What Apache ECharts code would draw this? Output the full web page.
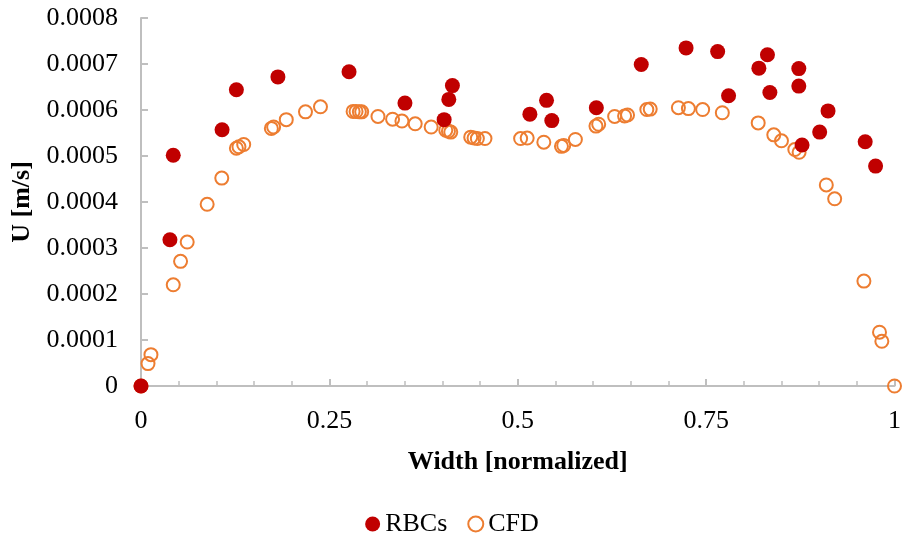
<!DOCTYPE html>
<html>
<head>
<meta charset="utf-8">
<script src="https://cdn.jsdelivr.net/npm/echarts@6/dist/echarts.min.js"></script>
<style>
html,body{margin:0;padding:0;background:#fff;}
#chart{width:904px;height:539px;}
</style>
</head>
<body>
<div id="chart"></div>
<script>
const rbcX = [0, 0.0384, 0.0428, 0.1076, 0.1266, 0.1817, 0.2761, 0.3503, 0.4023, 0.4085, 0.4133, 0.5161, 0.5382, 0.5452, 0.6043, 0.6639, 0.7234, 0.7653, 0.7798, 0.82, 0.8314, 0.8346, 0.873, 0.873, 0.8773, 0.9007, 0.9118, 0.9611, 0.9749];
const rbcY = [0, 0.000318, 0.0005015, 0.000557, 0.000644, 0.000672, 0.000683, 0.000615, 0.000579, 0.000623, 0.000653, 0.000591, 0.000621, 0.000577, 0.000605, 0.000699, 0.000735, 0.000727, 0.000631, 0.000691, 0.00072, 0.000638, 0.00069, 0.000652, 0.000524, 0.000552, 0.000598, 0.000531, 0.000478];
const cfdX = [0, 0.0093, 0.0132, 0.0428, 0.0525, 0.0613, 0.0878, 0.1072, 0.1266, 0.1300, 0.1363, 0.173, 0.176, 0.1928, 0.2183, 0.2382, 0.2815, 0.2854, 0.2898, 0.2929, 0.3145, 0.3339, 0.3463, 0.3639, 0.3851, 0.4045, 0.408, 0.4111, 0.4376, 0.442, 0.4464, 0.4565, 0.5038, 0.5125, 0.5346, 0.558, 0.561, 0.5765, 0.6038, 0.6074, 0.6286, 0.6418, 0.6457, 0.6713, 0.6758, 0.7132, 0.7265, 0.7454, 0.7715, 0.8191, 0.8398, 0.85, 0.8677, 0.8734, 0.9095, 0.9206, 0.9594, 0.9801, 0.9832, 1];
const cfdY = [0, 0.0000487, 0.0000682, 0.00022, 0.000271, 0.000313, 0.000395, 0.000452, 0.000517, 0.00052, 0.000525, 0.00056, 0.000563, 0.000579, 0.000596, 0.000607, 0.000597, 0.000597, 0.000596, 0.000596, 0.000586, 0.00058, 0.000576, 0.00057, 0.000563, 0.000556, 0.000554, 0.000552, 0.000541, 0.000539, 0.000538, 0.000538, 0.000538, 0.000539, 0.00053, 0.000521, 0.000523, 0.000536, 0.000565, 0.000569, 0.000586, 0.000587, 0.000589, 0.000601, 0.000602, 0.000605, 0.000603, 0.000601, 0.000594, 0.000572, 0.000546, 0.000533, 0.000514, 0.000508, 0.000437, 0.000407, 0.000228, 0.000117, 0.0000972, 0];
const seriesNames = ['RBCs', 'CFD'];
const xTickLabels = {0: '0', 0.25: '0.25', 0.5: '0.5', 0.75: '0.75', 1: '1'};

const FONT = '"Liberation Serif", "Times New Roman", serif';
const zip = (xs, ys) => xs.map((x, i) => [x, ys[i]]);

const chart = echarts.init(document.getElementById('chart'), null, {renderer: 'canvas'});
chart.setOption({
  animation: false,
  backgroundColor: '#fff',
  textStyle: {fontFamily: FONT, color: '#000'},
  grid: {left: 141, right: 7, top: 18, bottom: 153, containLabel: false},
  xAxis: {
    type: 'value', min: 0, max: 1, interval: 0.25,
    name: 'Width [normalized]', nameLocation: 'middle', nameGap: 63,
    nameTextStyle: {fontFamily: FONT, fontSize: 26, fontWeight: 'bold', color: '#000'},
    axisLine: {show: true, lineStyle: {color: '#BFBFBF', width: 2}},
    axisTick: {show: true, inside: true, length: 7, lineStyle: {color: '#BFBFBF', width: 2}},
    minorTick: {show: true, splitNumber: 5, length: 5, lineStyle: {color: '#BFBFBF', width: 1.5}},
    axisLabel: {fontFamily: FONT, fontSize: 26, color: '#000', margin: 22,
      formatter: v => xTickLabels[v] !== undefined ? xTickLabels[v] : String(v)},
    splitLine: {show: false}
  },
  yAxis: {
    type: 'value', min: 0, max: 0.0008, interval: 0.0001,
    name: 'U [m/s]', nameLocation: 'middle', nameGap: 104, nameRotate: 90,
    nameTextStyle: {fontFamily: FONT, fontSize: 26, fontWeight: 'bold', color: '#000'},
    axisLine: {show: true, lineStyle: {color: '#BFBFBF', width: 2}},
    axisTick: {show: true, inside: true, length: 7, lineStyle: {color: '#BFBFBF', width: 2}},
    axisLabel: {fontFamily: FONT, fontSize: 26, color: '#000', margin: 23,
      formatter: v => v === 0 ? '0' : v.toFixed(4)},
    splitLine: {show: false}
  },
  legend: {
    bottom: 2, left: 'center', padding: 0,
    itemWidth: 15, itemHeight: 15, itemGap: 20,
    textStyle: {fontFamily: FONT, fontSize: 26, color: '#000'},
    data: seriesNames
  },
  series: [
    {
      name: seriesNames[0], type: 'scatter', z: 3,
      symbol: 'circle', symbolSize: 15,
      itemStyle: {color: '#C00000', opacity: 1},
      data: zip(rbcX, rbcY)
    },
    {
      name: seriesNames[1], type: 'scatter', z: 2,
      symbol: 'circle', symbolSize: 13,
      itemStyle: {color: 'rgba(255,255,255,0)', borderColor: '#ED7D31', borderWidth: 2, opacity: 1},
      data: zip(cfdX, cfdY)
    }
  ]
});
</script>
</body>
</html>
